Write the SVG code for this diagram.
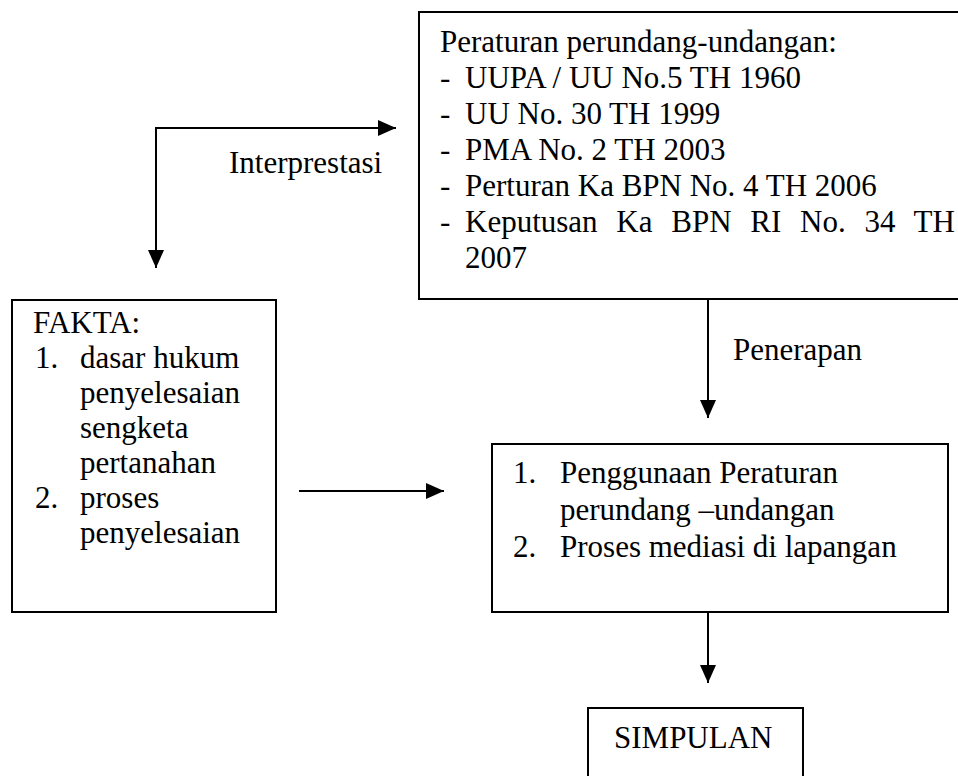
<svg xmlns="http://www.w3.org/2000/svg" width="958" height="776" viewBox="0 0 958 776">
<style>
  .box { fill: #ffffff; stroke: #000000; stroke-width: 2; }
  .t { font-family: "Liberation Serif", "Times New Roman", serif; font-size: 31px; fill: #000000; }
  .ln { fill: none; stroke: #000000; stroke-width: 2; }
</style>
<defs>
  <marker id="ah" markerUnits="userSpaceOnUse" markerWidth="18" markerHeight="16" viewBox="0 0 18 16" refX="18" refY="8" orient="auto">
    <path d="M0,0 L18,8 L0,16 Z" fill="#000000"/>
  </marker>
</defs>
<rect width="958" height="776" fill="#ffffff"/>

<g id="node-peraturan">
  <rect class="box" x="419" y="12" width="545" height="287"/>
  <text class="t" x="440" y="52">Peraturan perundang-undangan:</text>
  <text class="t" x="440" y="88">-</text><text class="t" x="465" y="88">UUPA / UU No.5 TH 1960</text>
  <text class="t" x="440" y="124">-</text><text class="t" x="465" y="124">UU No. 30 TH 1999</text>
  <text class="t" x="440" y="160">-</text><text class="t" x="465" y="160">PMA No. 2 TH 2003</text>
  <text class="t" x="440" y="196">-</text><text class="t" x="465" y="196">Perturan Ka BPN No. 4 TH 2006</text>
  <text class="t" x="440" y="232">-</text><text class="t" x="465" y="232" word-spacing="11">Keputusan Ka BPN RI No. 34 TH</text>
  <text class="t" x="465" y="268">2007</text>
</g>

<g id="node-fakta">
  <rect class="box" x="12" y="300" width="264" height="312"/>
  <text class="t" x="33" y="333">FAKTA:</text>
  <text class="t" x="35" y="368">1.</text><text class="t" x="80" y="368">dasar hukum</text>
  <text class="t" x="80" y="403">penyelesaian</text>
  <text class="t" x="80" y="438">sengketa</text>
  <text class="t" x="80" y="473">pertanahan</text>
  <text class="t" x="35" y="508">2.</text><text class="t" x="80" y="508">proses</text>
  <text class="t" x="80" y="543">penyelesaian</text>
</g>

<g id="node-penerapan-hasil">
  <rect class="box" x="492" y="444" width="456" height="168"/>
  <text class="t" x="513" y="483">1.</text><text class="t" x="560" y="483">Penggunaan Peraturan</text>
  <text class="t" x="560" y="520">perundang –undangan</text>
  <text class="t" x="513" y="557">2.</text><text class="t" x="560" y="557">Proses mediasi di lapangan</text>
</g>

<g id="node-simpulan">
  <rect class="box" x="588" y="708" width="215" height="80"/>
  <text class="t" x="614" y="748">SIMPULAN</text>
</g>

<g id="connectors">
  <path class="ln" d="M155,128 L396,128" marker-end="url(#ah)"/>
  <path class="ln" d="M156,128 L156,268" marker-end="url(#ah)"/>
  <text class="t" x="229" y="173">Interprestasi</text>
  <path class="ln" d="M708,299 L708,418" marker-end="url(#ah)"/>
  <text class="t" x="733" y="360">Penerapan</text>
  <path class="ln" d="M299,491 L444,491" marker-end="url(#ah)"/>
  <path class="ln" d="M708,612 L708,683" marker-end="url(#ah)"/>
</g>
</svg>
